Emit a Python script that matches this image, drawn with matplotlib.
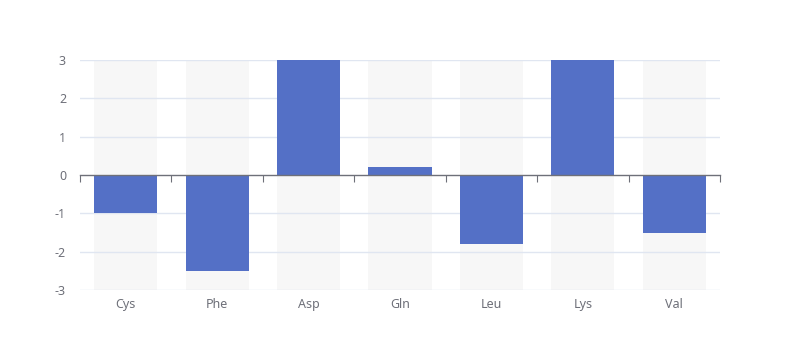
import matplotlib
matplotlib.use("Agg")
import matplotlib.pyplot as plt
import matplotlib.transforms as mtransforms

categories = ["Cys", "Phe", "Asp", "Gln", "Leu", "Lys", "Val"]
values = [-1, -2.5, 3, 0.2, -1.8, 3, -1.5]
y_ticks = [-3, -2, -1, 0, 1, 2, 3]

plt.rcParams['font.family'] = ['Noto Sans', 'DejaVu Sans']

fig = plt.figure(figsize=(8, 3.6), dpi=100)
ax = fig.add_axes([0.1, 290/360*0 + 70/360, 0.8, 230/360])

x = list(range(len(categories)))
ymin, ymax = y_ticks[0], y_ticks[-1]

# background bars
ax.bar(x, [ymax - ymin] * len(x), bottom=ymin, width=0.69, color='#f7f7f7', zorder=1)
# grid
for t in y_ticks:
    if t != 0:
        ax.axhline(t, color='#e0e6f1', lw=1, zorder=2)
# data bars
ax.bar(x, values, width=0.69, color='#5470c6', zorder=3)

ax.set_xlim(-0.5, len(x) - 0.5)
ax.set_ylim(ymin, ymax)

for s in ['top', 'right', 'left']:
    ax.spines[s].set_visible(False)
ax.spines['bottom'].set_position(('data', 0))
ax.spines['bottom'].set_color('#6e7079')
ax.spines['bottom'].set_linewidth(1)
ax.spines['bottom'].set_zorder(4)

ax.set_xticks([i - 0.5 for i in range(len(x) + 1)])
ax.tick_params(axis='x', direction='out', length=5, color='#6e7079', labelbottom=False)
ax.set_yticks(y_ticks)
ax.set_yticklabels([str(t) for t in y_ticks])
ax.tick_params(axis='y', length=0, pad=10, labelcolor='#6e7079', labelsize=9)

trans = mtransforms.blended_transform_factory(ax.transData, ax.transAxes)
for i, c in enumerate(categories):
    ax.text(i, -0.035, c, transform=trans, ha='center', va='top', color='#6e7079', fontsize=9)

fig.savefig('out.png', dpi=100)
